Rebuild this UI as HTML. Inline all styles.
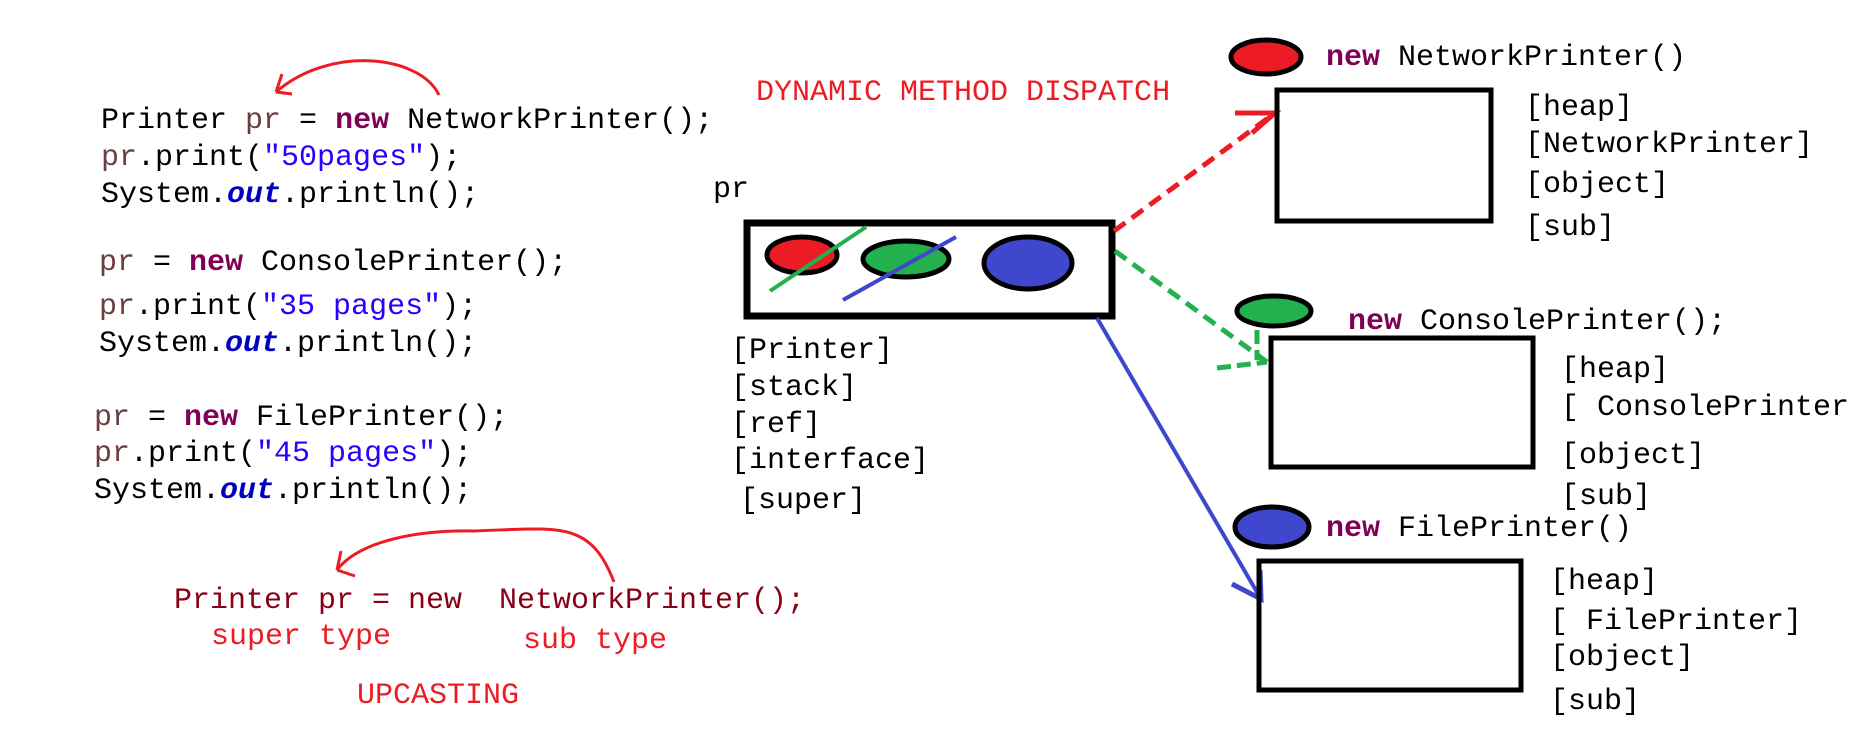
<!DOCTYPE html>
<html><head><meta charset="utf-8"><style>
html,body{margin:0;padding:0;background:#fff;}
svg{display:block;}
text{font-family:"Liberation Mono",monospace;font-size:30px;fill:#000;}
.k{fill:#7f0055;font-weight:bold;}
.v{fill:#6a3e3e;}
.s{fill:#2a00ff;}
.o{fill:#0000c0;font-weight:bold;font-style:italic;}
.r{fill:#ed1c24;}
.d{fill:#880015;}
</style></head><body>
<svg width="1850" height="743" viewBox="0 0 1850 743" xmlns="http://www.w3.org/2000/svg">
<text x="101" y="128">Printer <tspan class="v">pr</tspan> = <tspan class="k">new</tspan> NetworkPrinter();</text>
<text x="101" y="165"><tspan class="v">pr</tspan>.print(<tspan class="s">"50pages"</tspan>);</text>
<text x="101" y="202">System.<tspan class="o">out</tspan>.println();</text>
<text x="99" y="270"><tspan class="v">pr</tspan> = <tspan class="k">new</tspan> ConsolePrinter();</text>
<text x="99" y="314"><tspan class="v">pr</tspan>.print(<tspan class="s">"35 pages"</tspan>);</text>
<text x="99" y="351">System.<tspan class="o">out</tspan>.println();</text>
<text x="94" y="425"><tspan class="v">pr</tspan> = <tspan class="k">new</tspan> FilePrinter();</text>
<text x="94" y="461"><tspan class="v">pr</tspan>.print(<tspan class="s">"45 pages"</tspan>);</text>
<text x="94" y="498">System.<tspan class="o">out</tspan>.println();</text>

<path d="M439,95 C420,55 330,45 276,92" fill="none" stroke="#ed1c24" stroke-width="3"/>
<path d="M276,92 L282,74 M276,92 L292,94" fill="none" stroke="#ed1c24" stroke-width="3"/>
<path d="M614,582 C590,520 560,528 474,531 C420,530 360,540 337,570" fill="none" stroke="#ed1c24" stroke-width="3"/>
<path d="M337,570 L341,551 M337,570 L355,576" fill="none" stroke="#ed1c24" stroke-width="3"/>

<text class="d" x="174" y="608">Printer pr = new</text>
<text class="d" x="499" y="608">NetworkPrinter();</text>
<text class="r" x="211" y="644">super type</text>
<text class="r" x="523" y="648">sub type</text>
<text class="r" x="357" y="703">UPCASTING</text>

<text class="r" x="756" y="100">DYNAMIC METHOD DISPATCH</text>
<text x="713" y="197">pr</text>

<g transform="translate(-6,0)">
<rect x="753" y="223" width="365" height="93" fill="none" stroke="#000" stroke-width="7"/>
<ellipse cx="808" cy="255" rx="35" ry="18" fill="#ed1c24" stroke="#000" stroke-width="5"/>
<ellipse cx="912" cy="259" rx="43" ry="18" fill="#22b14c" stroke="#000" stroke-width="5"/>
<ellipse cx="1034" cy="263" rx="44" ry="26" fill="#3f48cc" stroke="#000" stroke-width="5"/>
<line x1="776" y1="291" x2="872" y2="227" stroke="#22b14c" stroke-width="4"/>
<line x1="849" y1="300" x2="962" y2="237" stroke="#3f48cc" stroke-width="4"/>
<text x="737" y="358">[Printer]</text>
<text x="737" y="395">[stack]</text>
<text x="737" y="432">[ref]</text>
<text x="737" y="468">[interface]</text>
<text x="746" y="508">[super]</text>
</g>

<g transform="translate(-8,0)">
<line x1="1122" y1="231" x2="1283" y2="113" stroke="#ed1c24" stroke-width="5" stroke-dasharray="14,8"/>
<path d="M1243,113 L1283,113 L1260,133" fill="none" stroke="#ed1c24" stroke-width="5"/>
<line x1="1123" y1="251" x2="1275" y2="362" stroke="#22b14c" stroke-width="5" stroke-dasharray="14,8"/>
<path d="M1265,330 L1265,360 M1225,368 L1275,362" fill="none" stroke="#22b14c" stroke-width="5" stroke-dasharray="14,6"/>
<line x1="1105" y1="318" x2="1269" y2="599" stroke="#3f48cc" stroke-width="4"/>
<path d="M1240,584 L1269,599 L1268,570" fill="none" stroke="#3f48cc" stroke-width="5"/>

<ellipse cx="1274" cy="57" rx="35" ry="17" fill="#ed1c24" stroke="#000" stroke-width="5"/>
<text x="1334" y="65"><tspan class="k">new</tspan> NetworkPrinter()</text>
<rect x="1285" y="90" width="214" height="131" fill="none" stroke="#000" stroke-width="5"/>
<text x="1533" y="115">[heap]</text>
<text x="1533" y="152">[NetworkPrinter]</text>
<text x="1533" y="192">[object]</text>
<text x="1533" y="235">[sub]</text>

<ellipse cx="1282" cy="311" rx="37" ry="15" fill="#22b14c" stroke="#000" stroke-width="5"/>
<text x="1356" y="329"><tspan class="k">new</tspan> ConsolePrinter();</text>
<rect x="1279" y="338" width="262" height="129" fill="none" stroke="#000" stroke-width="5"/>
<text x="1569" y="377">[heap]</text>
<text x="1569" y="415">[ ConsolePrinter|</text>
<text x="1569" y="463">[object]</text>
<text x="1569" y="504">[sub]</text>

<ellipse cx="1280" cy="527" rx="37" ry="20" fill="#3f48cc" stroke="#000" stroke-width="5"/>
<text x="1334" y="536"><tspan class="k">new</tspan> FilePrinter()</text>
<rect x="1267" y="561" width="262" height="129" fill="none" stroke="#000" stroke-width="5"/>
<text x="1558" y="589">[heap]</text>
<text x="1558" y="629">[ FilePrinter]</text>
<text x="1558" y="665">[object]</text>
<text x="1558" y="709">[sub]</text>
</g>
</svg>
</body></html>
